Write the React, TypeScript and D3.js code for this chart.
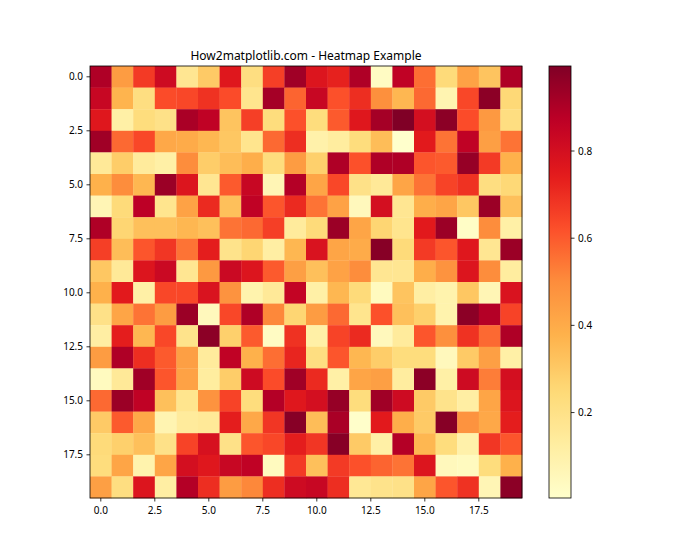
import React from "react";
import * as d3 from "d3";

const rows: number[][] = [
  [0.9,0.45,0.67,0.82,0.17,0.3,0.76,0.22,0.66,0.93,0.77,0.73,0.9,0.03,0.86,0.56,0.24,0.43,0.32,0.9],
  [0.84,0.37,0.22,0.63,0.64,0.69,0.63,0.18,0.92,0.58,0.84,0.62,0.7,0.49,0.36,0.57,0.08,0.64,0.97,0.25],
  [0.76,0.11,0.23,0.2,0.91,0.86,0.32,0.66,0.23,0.62,0.23,0.6,0.76,0.92,0.995,0.8,0.97,0.63,0.46,0.22],
  [0.93,0.57,0.64,0.41,0.4,0.36,0.31,0.18,0.57,0.7,0.1,0.13,0.23,0.34,0.004,0.75,0.55,0.86,0.44,0.55],
  [0.15,0.29,0.14,0.11,0.5,0.29,0.34,0.39,0.23,0.45,0.28,0.9,0.62,0.9,0.9,0.61,0.6,0.95,0.67,0.38],
  [0.38,0.5,0.36,0.94,0.77,0.17,0.6,0.84,0.07,0.89,0.42,0.64,0.2,0.15,0.42,0.55,0.65,0.69,0.22,0.25],
  [0.07,0.24,0.87,0.18,0.43,0.71,0.33,0.86,0.61,0.71,0.55,0.43,0.05,0.8,0.17,0.39,0.42,0.31,0.94,0.33],
  [0.9,0.26,0.33,0.33,0.36,0.33,0.55,0.57,0.66,0.14,0.24,0.94,0.42,0.26,0.18,0.75,0.94,0.02,0.5,0.11],
  [0.66,0.34,0.61,0.68,0.55,0.74,0.19,0.26,0.12,0.36,0.78,0.42,0.4,0.98,0.24,0.67,0.61,0.76,0.17,0.94],
  [0.31,0.15,0.77,0.83,0.17,0.46,0.83,0.77,0.6,0.44,0.33,0.43,0.5,0.17,0.17,0.39,0.48,0.77,0.5,0.13],
  [0.38,0.75,0.11,0.64,0.64,0.78,0.48,0.09,0.15,0.85,0.11,0.36,0.24,0.04,0.32,0.12,0.09,0.31,0.07,0.78],
  [0.2,0.42,0.55,0.45,0.94,0.05,0.64,0.9,0.51,0.26,0.45,0.57,0.18,0.62,0.33,0.28,0.09,0.97,0.89,0.65],
  [0.12,0.74,0.36,0.64,0.19,0.97,0.28,0.6,0.03,0.69,0.11,0.65,0.71,0.05,0.14,0.61,0.49,0.69,0.57,0.9],
  [0.45,0.9,0.7,0.6,0.44,0.14,0.86,0.38,0.56,0.72,0.22,0.61,0.36,0.29,0.23,0.23,0.05,0.3,0.44,0.11],
  [0.04,0.15,0.93,0.61,0.43,0.13,0.29,0.82,0.63,0.93,0.71,0.11,0.42,0.44,0.13,0.97,0.11,0.82,0.53,0.8],
  [0.57,0.94,0.86,0.33,0.18,0.48,0.65,0.23,0.89,0.76,0.8,0.95,0.23,0.93,0.82,0.3,0.19,0.12,0.42,0.77],
  [0.3,0.6,0.41,0.08,0.14,0.15,0.74,0.41,0.68,0.98,0.34,0.91,0.01,0.75,0.39,0.3,0.98,0.48,0.41,0.74],
  [0.24,0.28,0.33,0.2,0.65,0.79,0.2,0.61,0.64,0.74,0.68,0.98,0.3,0.11,0.89,0.36,0.23,0.1,0.68,0.61],
  [0.23,0.42,0.09,0.42,0.8,0.76,0.84,0.86,0.04,0.67,0.33,0.67,0.62,0.58,0.55,0.77,0.05,0.04,0.23,0.38],
  [0.44,0.22,0.77,0.12,0.89,0.7,0.45,0.51,0.7,0.82,0.84,0.7,0.16,0.19,0.2,0.42,0.61,0.69,0.07,0.97],
];

const axisTicks = [0, 2.5, 5, 7.5, 10, 12.5, 15, 17.5];
const axisTickLabels = ["0.0", "2.5", "5.0", "7.5", "10.0", "12.5", "15.0", "17.5"];
const cbTicks = [0.2, 0.4, 0.6, 0.8];
const cbTickLabels = ["0.2", "0.4", "0.6", "0.8"];
const ylorrd = ["#ffffcc", "#ffeda0", "#fed976", "#feb24c", "#fd8d3c", "#fc4e2a", "#e31a1c", "#bd0026", "#800026"];
const title = "How2matplotlib.com - Heatmap Example";

export default function App() {
  const x0 = 90, y0 = 66, W = 432, H = 432;
  const n = rows.length;
  const all = rows.flat();
  const [vmin, vmax] = d3.extent(all) as [number, number];
  const t = d3.scaleLinear().domain([vmin, vmax]).range([0, 1]);
  const cmap = d3.scaleLinear<string>()
    .domain(ylorrd.map((_, i) => i / (ylorrd.length - 1)))
    .range(ylorrd)
    .interpolate(d3.interpolateRgb)
    .clamp(true);
  const color = (v: number) => cmap(t(v));
  const xb = d3.scaleBand<number>().domain(d3.range(n)).range([x0, x0 + W]);
  const yb = d3.scaleBand<number>().domain(d3.range(n)).range([y0, y0 + H]);
  const xl = d3.scaleLinear().domain([-0.5, n - 0.5]).range([x0, x0 + W]);
  const yl = d3.scaleLinear().domain([-0.5, n - 0.5]).range([y0, y0 + H]);
  const cbx = 549, cbw = 22;
  const cby = d3.scaleLinear().domain([vmin, vmax]).range([y0 + H, y0]);
  const font = "'Noto Sans', 'Open Sans', sans-serif";
  const stops = d3.range(0, 1.0001, 0.02);

  return (
    <svg width={700} height={560} style={{ position: "absolute", left: 0, top: 0 }} fontFamily={font}>
      <rect width={700} height={560} fill="white" />
      <defs>
        <linearGradient id="cb" x1="0" y1="1" x2="0" y2="0">
          {stops.map((s, i) => (
            <stop key={i} offset={s} stopColor={cmap(s)} />
          ))}
        </linearGradient>
      </defs>
      <text x={x0 + W / 2} y={60} textAnchor="middle" fontSize={12} fill="black">{title}</text>
      {rows.map((r, i) =>
        r.map((v, j) => (
          <rect key={`${i}-${j}`} x={xb(j)} y={yb(i)} width={xb.bandwidth() + 0.3} height={yb.bandwidth() + 0.3} fill={color(v)} />
        ))
      )}
      <rect x={x0} y={y0} width={W} height={H} fill="none" stroke="black" strokeWidth={0.8} />
      {axisTicks.map((v, i) => (
        <g key={`xt${i}`}>
          <line x1={xl(v)} x2={xl(v)} y1={y0 + H} y2={y0 + H + 3.5} stroke="black" strokeWidth={0.8} />
          <text x={xl(v)} y={y0 + H + 16} textAnchor="middle" fontSize={10} fill="black">{axisTickLabels[i]}</text>
        </g>
      ))}
      {axisTicks.map((v, i) => (
        <g key={`yt${i}`}>
          <line x1={x0 - 3.5} x2={x0} y1={yl(v)} y2={yl(v)} stroke="black" strokeWidth={0.8} />
          <text x={x0 - 7} y={yl(v) + 3.5} textAnchor="end" fontSize={10} fill="black">{axisTickLabels[i]}</text>
        </g>
      ))}
      <rect x={cbx} y={y0} width={cbw} height={H} fill="url(#cb)" stroke="black" strokeWidth={0.8} />
      {cbTicks.map((v, i) => (
        <g key={`ct${i}`}>
          <line x1={cbx + cbw} x2={cbx + cbw + 3.5} y1={cby(v)} y2={cby(v)} stroke="black" strokeWidth={0.8} />
          <text x={cbx + cbw + 7} y={cby(v) + 3.5} textAnchor="start" fontSize={10} fill="black">{cbTickLabels[i]}</text>
        </g>
      ))}
    </svg>
  );
}
